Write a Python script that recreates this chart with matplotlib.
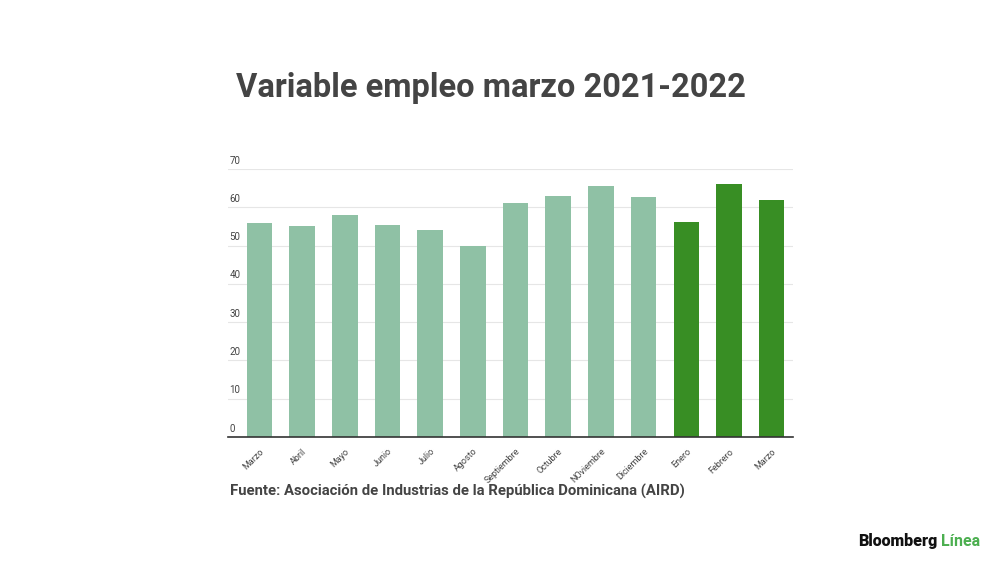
import matplotlib
matplotlib.use("Agg")
import matplotlib.pyplot as plt

months = ["Marzo", "Abril", "Mayo", "Junio", "Julio", "Agosto", "Septiembre",
          "Octubre", "NOviembre", "Diciembre", "Enero", "Febrero", "Marzo"]
values = [56.0, 55.2, 58.0, 55.5, 54.0, 50.0, 61.0, 63.0, 65.5, 62.7, 56.1, 66.1, 62.0]
highlight = [False] * 10 + [True] * 3
yticks = [0, 10, 20, 30, 40, 50, 60, 70]

light = "#8fc1a5"
dark = "#388e24"
txt = "#444444"

plt.rcParams['font.family'] = ['Roboto', 'DejaVu Sans']

fig = plt.figure(figsize=(10, 5.62), dpi=100)
W, H = 1000, 562
left, right, bottom, top = 228, 793, 437, 169
ax = fig.add_axes([left / W, 1 - bottom / H, (right - left) / W, (bottom - top) / H])

x = list(range(len(months)))
colors = [dark if h else light for h in highlight]
ax.bar(x, values, width=0.6, color=colors, zorder=2)
ax.set_xlim(-0.74, 12.5)
ax.set_ylim(0, 70)

for s in ["top", "right", "left"]:
    ax.spines[s].set_visible(False)
ax.spines["bottom"].set_color("#333333")
ax.spines["bottom"].set_linewidth(1.2)
ax.spines["bottom"].set_zorder(3)

ax.set_yticks(yticks)
ax.yaxis.grid(True, color="#e6e6e6", linewidth=0.8, zorder=0)
ax.tick_params(axis="y", length=0, labelleft=False)
for v in yticks:
    ax.annotate(str(v), xy=(0, v), xycoords=("axes fraction", "data"),
                xytext=(1, 2.5), textcoords="offset points",
                ha="left", va="bottom", fontsize=7, color=txt)

ax.set_xticks(x)
ax.set_xticklabels(months, rotation=45, ha="right", rotation_mode="anchor",
                   fontsize=6.5, color=txt)
ax.tick_params(axis="x", length=0, pad=7)

fig.text(491 / W, 1 - 88 / H, "Variable empleo marzo 2021-2022", ha="center", va="center",
         fontsize=23.5, fontweight="bold", color=txt)
fig.text(230 / W, 1 - 491 / H,
         "Fuente: Asociación de Industrias de la República Dominicana (AIRD)",
         ha="left", va="center", fontsize=10.7, fontweight="bold", color=txt)

t1 = fig.text(858 / W, 1 - 541 / H, "Bloomberg", ha="left", va="center",
              fontsize=11.5, fontweight="black", color="#111111")
fig.canvas.draw()
bb = t1.get_window_extent()
fig.text((bb.x1 + 4) / W, 1 - 541 / H, "Línea", ha="left", va="center",
         fontsize=11.5, fontweight="bold", color="#4caf50")

fig.savefig("out.png", dpi=100, facecolor="white")
